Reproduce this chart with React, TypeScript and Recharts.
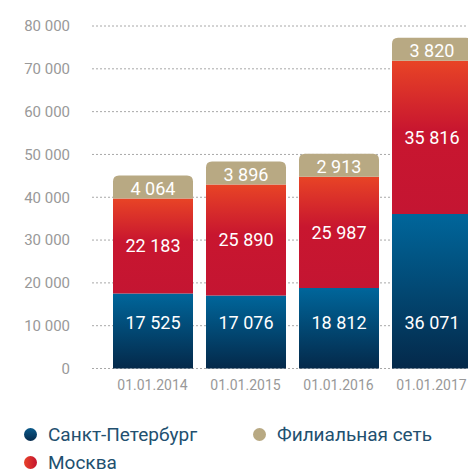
import { BarChart, Bar, XAxis, YAxis, CartesianGrid, LabelList } from "recharts";

const dates = ["01.01.2014", "01.01.2015", "01.01.2016", "01.01.2017"];
const spb = [17525, 17076, 18812, 36071];
const moscow = [22183, 25890, 25987, 35816];
const filial = [4064, 3896, 2913, 3820];
const yTicks = [0, 10000, 20000, 30000, 40000, 50000, 60000, 70000, 80000];

const data = dates.map((date, i) => ({
    date,
    spb: spb[i],
    moscow: moscow[i],
    filial: filial[i],
}));

const fmt = (v: number) => String(v).replace(/\B(?=(\d{3})+(?!\d))/g, " ");

// top segment: rounded corners, kept tall enough to hold its label
function FilialShape(props: any) {
    const { x, y, width, height, payload } = props;
    const h = Math.max(height + 4, 23);
    const top = y + height - h;
    const bottom = y + height;
    const r = 6;
    const d = `M${x},${bottom} L${x},${top + r} Q${x},${top} ${x + r},${top} L${x + width - r},${top} Q${x + width},${top} ${x + width},${top + r} L${x + width},${bottom} Z`;
    return (
        <g>
            <path d={d} fill="#b8a983" />
            <text
                x={x + width / 2}
                y={top + h / 2 + 1}
                textAnchor="middle"
                dominantBaseline="central"
                fill="#fff"
                fontSize={18}
            >
                {fmt(payload.filial)}
            </text>
        </g>
    );
}

function SpbLabel(props: any) {
    const vb = props.viewBox || props;
    const x = props.x ?? vb.x;
    const y = props.y ?? vb.y;
    const width = props.width ?? vb.width;
    const height = props.height ?? vb.height;
    return (
        <text
            x={x + width / 2}
            y={y + height - 46}
            textAnchor="middle"
            dominantBaseline="central"
            fill="#fff"
            fontSize={18}
        >
            {fmt(props.value)}
        </text>
    );
}

const legend = [
    { name: "Санкт-Петербург", fill: "linear-gradient(#0a5a8a, #062b4d)" },
    { name: "Москва", fill: "linear-gradient(90deg, #e8432a, #c4142f)" },
    { name: "Филиальная сеть", fill: "#b8a983" },
];

export default function App() {
    return (
        <div
            style={{
                position: "absolute",
                left: 0,
                top: 0,
                width: 468,
                height: 472,
                overflow: "hidden",
                fontFamily: "Roboto",
                background: "#fff",
            }}
        >
            <BarChart
                width={480}
                height={400}
                data={data}
                margin={{ top: 26, right: 2, left: 0, bottom: 0 }}
                barSize={80}
            >
                <defs>
                    <linearGradient id="gBlue" x1="0" y1="0" x2="0" y2="1">
                        <stop offset="0%" stopColor="#00669b" />
                        <stop offset="100%" stopColor="#04294a" />
                    </linearGradient>
                    <linearGradient id="gRed" x1="0" y1="0" x2="0" y2="1">
                        <stop offset="0%" stopColor="#e84426" />
                        <stop offset="45%" stopColor="#c8162f" />
                        <stop offset="100%" stopColor="#c41532" />
                    </linearGradient>
                </defs>
                <CartesianGrid
                    vertical={false}
                    stroke="#a8a8a8"
                    strokeDasharray="2 2"
                />
                <XAxis
                    dataKey="date"
                    axisLine={false}
                    tickLine={false}
                    tickSize={0}
                    tickMargin={12}
                    height={31.5}
                    padding={{ left: 14, right: 0 }}
                    tick={{ fill: "#999", fontSize: 14 }}
                />
                <YAxis
                    domain={[0, 80000]}
                    ticks={yTicks}
                    interval={0}
                    width={92}
                    axisLine={false}
                    tickLine={false}
                    tickSize={0}
                    tickMargin={22}
                    tickFormatter={fmt}
                    tick={{ fill: "#999", fontSize: 15 }}
                />
                <Bar dataKey="spb" stackId="a" fill="url(#gBlue)" isAnimationActive={false}>
                    <LabelList dataKey="spb" content={SpbLabel} />
                </Bar>
                <Bar dataKey="moscow" stackId="a" fill="url(#gRed)" isAnimationActive={false}>
                    <LabelList
                        dataKey="moscow"
                        position="center"
                        fill="#fff"
                        fontSize={18}
                        formatter={(v: any) => fmt(v)}
                    />
                </Bar>
                <Bar
                    dataKey="filial"
                    stackId="a"
                    fill="#b8a983"
                    shape={FilialShape}
                    isAnimationActive={false}
                />
            </BarChart>
            <div
                style={{
                    position: "absolute",
                    top: 420,
                    left: 24,
                    display: "grid",
                    gridTemplateRows: "28px 28px",
                    gridTemplateColumns: "229px auto",
                    gridAutoFlow: "column",
                }}
            >
                {legend.map((item) => (
                    <div
                        key={item.name}
                        style={{ display: "flex", alignItems: "center", height: 28 }}
                    >
                        <span
                            style={{
                                width: 13,
                                height: 13,
                                borderRadius: "50%",
                                background: item.fill,
                                marginRight: 11,
                                flex: "none",
                            }}
                        />
                        <span
                            style={{
                                fontSize: 19,
                                lineHeight: "19px",
                                color: "#22506f",
                                whiteSpace: "nowrap",
                            }}
                        >
                            {item.name}
                        </span>
                    </div>
                ))}
            </div>
        </div>
    );
}
